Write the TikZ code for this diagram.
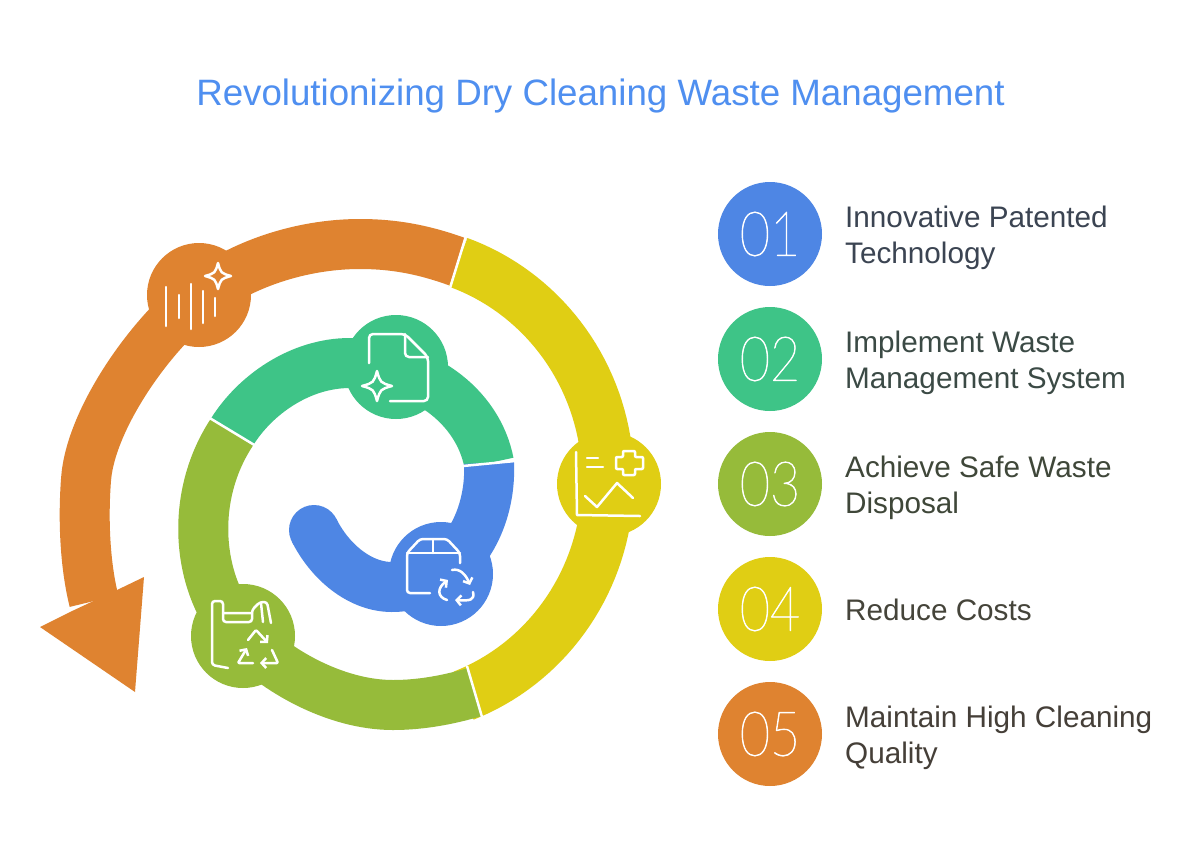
\documentclass[tikz,border=0pt]{standalone}
\usepackage{fontspec}
\setmainfont{Liberation Sans}
\newfontfamily\numfont[FakeStretch=.84,FakeBold=1.2]{Lato Thin}
\usetikzlibrary{arrows.meta}
\definecolor{cblue}{HTML}{4E86E4}
\definecolor{cgreen}{HTML}{3EC487}
\definecolor{colive}{HTML}{96BB3A}
\definecolor{cyellow}{HTML}{E0CE14}
\definecolor{corange}{HTML}{DF8330}
\definecolor{ctitle}{HTML}{4F8FF0}
\tikzset{
  band/.style={line width=50pt, line cap=butt, line join=round},
  hub/.style={circle, minimum size=104pt, inner sep=0pt, fill=#1},
  iconline/.style={draw=white, line width=2.5pt, line cap=round, line join=round, fill=none},
  recyc/.style={iconline, -{Straight Barb[length=4.5pt,width=10pt]}},
  sepline/.style={draw=white, line width=2.5pt},
  steptext/.style={anchor=west, inner sep=0pt, align=left, font=\fontsize{29.7}{36}\selectfont},
  sparkle/.pic={\draw[iconline] (0,-1) .. controls (.22,-.22) .. (1,0) .. controls (.22,.22) .. (0,1) .. controls (-.22,.22) .. (-1,0) .. controls (-.22,-.22) .. (0,-1) -- cycle;}
}
\begin{document}
\begin{tikzpicture}[x=1pt, y=-1pt, line join=round]
  \useasboundingbox (0,0) rectangle (1200,860);
  \fill[white] (0,0) rectangle (1200,860);
  \node[text=ctitle, font=\fontsize{36.7}{40}\selectfont] (title) at (600.5,96) {Revolutionizing Dry Cleaning Waste Management};
  % spiral, outermost band first
  \draw[band, corange] (458,262) .. controls (425,250) and (395,244) .. (360,244)
    .. controls (300,244) and (240,265) .. (199,297)
    .. controls (150,335) and (90,420) .. (86,480)
    .. controls (83,520) and (85,565) .. (94,601);
  \fill[corange] (70,612) -- (40,627) -- (135,692) -- (144,577) -- (117,590) -- cycle;
  \draw[band, line width=52pt, cyellow] plot[domain=69:-70.5,samples=70] ({383+225*cos(\x)},{480+231*sin(\x)});
  \draw[band, colive] (232,432) .. controls (187,500) and (198,590) .. (243,636)
    .. controls (275,670) and (335,705) .. (393,705)
    .. controls (422,705) and (450,699.4) .. (475,692);
  \draw[band, cgreen] (489,463) .. controls (478,405) and (420,363) .. (350,363)
    .. controls (300,363) and (255,395) .. (232,432);
  \fill[cblue] (314,530) circle (25);
  \draw[band, cblue] (314,530) .. controls (330,562) and (360,587) .. (392,587)
    .. controls (450,587) and (492,530) .. (489,463);
  % separators
  \coordinate (sepa) at (463,466); \coordinate (sepb) at (515,461);
  \coordinate (sepc) at (208,417); \coordinate (sepd) at (256,446);
  \coordinate (sepe) at (467,666); \coordinate (sepf) at (482,717);
  \coordinate (sepg) at (450,288); \coordinate (seph) at (466,236);
  \draw[sepline] (sepa) -- (sepb);
  \draw[sepline] (sepc) -- (sepd);
  \draw[sepline] (sepe) -- (sepf);
  \draw[sepline] (sepg) -- (seph);
  % hubs
  \node[hub=cblue] (hubbox) at (441,574) {};
  \node[hub=cgreen] (hubdoc) at (396,367) {};
  \node[hub=colive] (hubbag) at (243,636) {};
  \node[hub=cyellow] (hubchart) at (609,484) {};
  \node[hub=corange] (hubwave) at (199,295) {};
  % wave icon
  \draw[iconline] (166,287)--(166,326) (179,295)--(179,318) (191,284)--(191,329) (203,291)--(203,323) (215,298)--(215,316);
  \pic[scale=13] at (218,276) {sparkle};
  % doc icon
  \draw[iconline, rounded corners=4pt] (369,363)--(369,334)--(405,334)--(428,357)--(428,401)--(390,401);
  \draw[iconline, rounded corners=4pt] (405,334)--(405,357)--(428,357);
  \pic[scale=15] at (377,386) {sparkle};
  % box icon
  \draw[iconline, rounded corners=3pt] (430,593)--(407,593)--(407,553)--(420,539)--(447,539)--(460,553)--(460,563);
  \draw[iconline] (407,553)--(460,553) (433,539)--(433,553);
  \draw[recyc] (452,570) .. controls (460,568) and (466,575) .. (470,585);
  \draw[recyc] (473,592) .. controls (475,600) and (470,601) .. (455,600);
  \draw[recyc] (447,600) .. controls (437,597) and (437,588) .. (448,580);
  % bag icon
  \draw[iconline, rounded corners=3pt] (228,668)--(212,665)--(212,601)--(223,601)--(223,622)--(252,622)--(252,610)--(260,602)--(267,602)--(271,623);
  \draw[iconline] (223,613)--(252,613) (261,603)--(263,622);
  \draw[recyc, rounded corners=1pt] (248,640)--(256,630)--(268,643);
  \draw[recyc, rounded corners=1pt] (272,650)--(278,663)--(260,663);
  \draw[recyc, rounded corners=1pt] (253,663)--(238,663)--(247,648);
  % chart icon
  \draw[iconline] (576,452)--(577,515)--(640,516);
  \draw[iconline] (587,458)--(598,458) (587,467)--(603,467);
  \draw[iconline] (585,496)--(597,507)--(617,483)--(633,498);
  \draw[iconline, rounded corners=1pt] (623,451)--(635,451)--(635,457)--(643,457)--(643,469)--(635,469)--(635,475)--(623,475)--(623,469)--(616,469)--(616,457)--(623,457)--cycle;
  % list on the right
  \foreach \y/\ly/\num/\col/\tcol/\txt in {
    234/237.5/01/cblue/3B4452/{Innovative Patented\\Technology},
    359/362.5/02/cgreen/3B4A45/{Implement Waste\\Management System},
    484/487.5/03/colive/3F4739/{Achieve Safe Waste\\Disposal},
    609/610/04/cyellow/45443A/{Reduce Costs},
    734/737.5/05/corange/453F38/{Maintain High Cleaning\\Quality}}{
    \definecolor{tc}{HTML}{\tcol}
    \node[hub=\col, text=white, font=\numfont\fontsize{62}{62}\selectfont] (step\num) at (770,\y) {\num};
    \node[steptext, text=tc] (lab\num) at (845,\ly) {\txt};
  }
\end{tikzpicture}
\end{document}
